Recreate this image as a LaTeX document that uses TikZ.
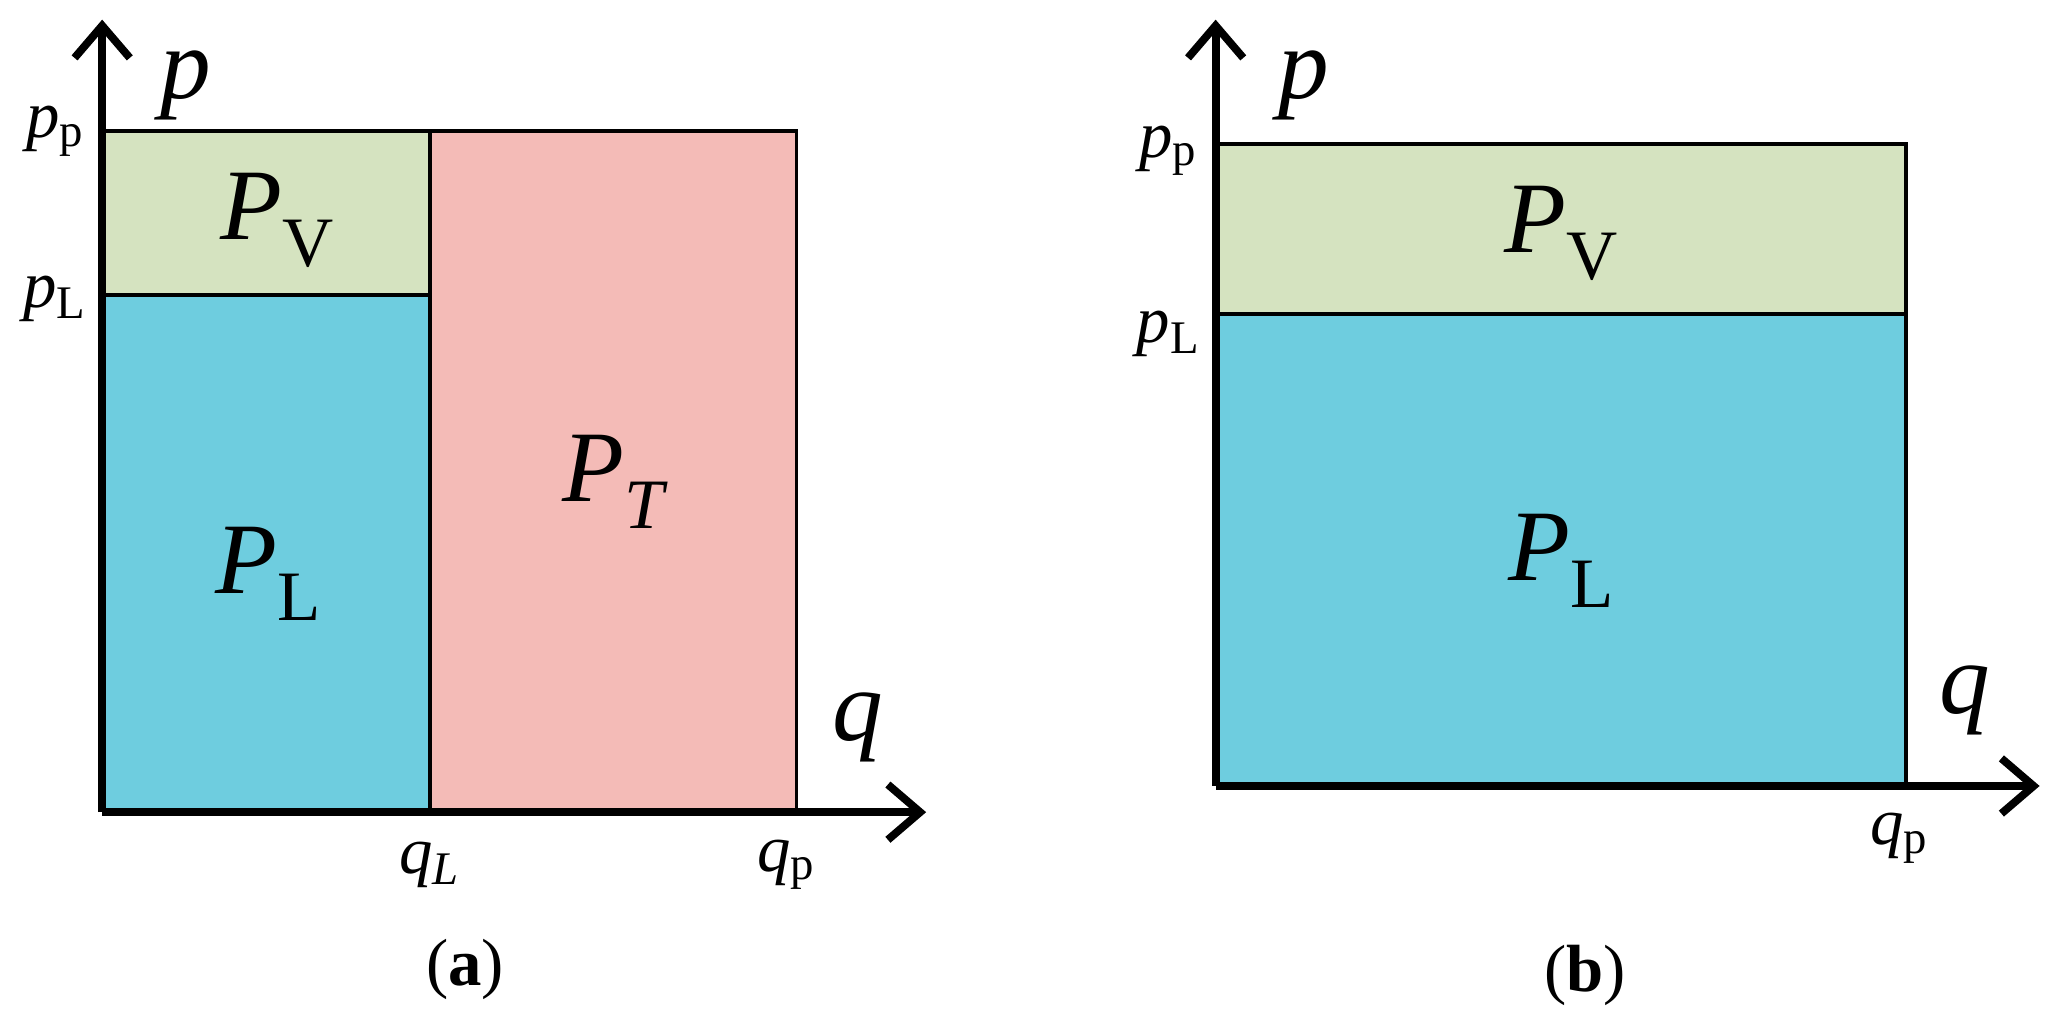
\documentclass[tikz,border=0pt]{standalone}
\usepackage{fontspec}
\setmainfont{Liberation Serif}
\usetikzlibrary{arrows.meta}
\newcommand{\isub}[2]{\textit{#1}\textsubscript{#2}}
\begin{document}
\begin{tikzpicture}[x=0.02cm,y=-0.02cm,
  axis/.style={line width=3.4pt,-{Straight Barb[length=14pt,width=24pt,line width=3.4pt]}},
  box/.style={draw=black,line width=1.7pt},
  big/.style={font=\fontsize{44}{48}\selectfont},
  small/.style={font=\fontsize{29}{32}\selectfont},
  captext/.style={font=\fontsize{29}{32}\selectfont}]
\useasboundingbox (0,0) rectangle (1568,787);
\definecolor{cg}{HTML}{D5E3C0}\definecolor{cb}{HTML}{6ECDDF}\definecolor{cp}{HTML}{F4BBB7}
% panel a
\fill[cg] (78,100) rectangle (328,225);
\fill[cb] (78,225) rectangle (328,620);
\fill[cp] (328,100) rectangle (608,620);
\draw[box] (78,100) -- (608,100) -- (608,620);
\draw[box] (328,100) -- (328,620);
\draw[box] (78,225) -- (328,225);
\coordinate (ao) at (78,620); \coordinate (ay) at (78,15); \coordinate (ax) at (707,620);
\draw[axis] (ao) -- (ay);
\draw[axis] (ao) -- (ax);
\node[big] (pv1) at (212,168) {\isub{P}{V}};
\node[big] (pl1) at (205,438) {\isub{P}{L}};
\node[big] (pt1) at (470,368) {\isub{P}{\textit{T}}};
\node[big] (p1) at (142,65) {\textit{p}};
\node[big] (q1) at (655,555) {\textit{q}};
\node[small] (pp1) at (42,100) {\isub{p}{p}};
\node[small] (pL1) at (42,228) {\isub{p}{L}};
\node[small] (qL1) at (328,660) {\isub{q}{\textit{L}}};
\node[small] (qp1) at (600,660) {\isub{q}{p}};
\node[captext] (ca) at (355,740) {(\textbf{a})};
% panel b
\fill[cg] (928,110) rectangle (1455,240);
\fill[cb] (928,240) rectangle (1455,600);
\draw[box] (928,110) -- (1455,110) -- (1455,600);
\draw[box] (928,240) -- (1455,240);
\coordinate (bo) at (928,600); \coordinate (by) at (928,15); \coordinate (bx) at (1557,600);
\draw[axis] (bo) -- (by);
\draw[axis] (bo) -- (bx);
\node[big] (pv2) at (1192,178) {\isub{P}{V}};
\node[big] (pl2) at (1192,428) {\isub{P}{L}};
\node[big] (p2) at (995,65) {\textit{p}};
\node[big] (q2) at (1500,535) {\textit{q}};
\node[small] (pp2) at (892,115) {\isub{p}{p}};
\node[small] (pL2) at (892,255) {\isub{p}{L}};
\node[small] (qp2) at (1450,640) {\isub{q}{p}};
\node[captext] (cb2) at (1210,745) {(\textbf{b})};
\end{tikzpicture}
\end{document}
